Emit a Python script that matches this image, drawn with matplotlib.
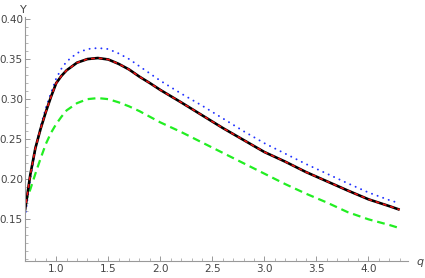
import numpy as np
import matplotlib.pyplot as plt
from matplotlib.ticker import MultipleLocator, FormatStrFormatter

# values
q = [0.70, 0.75, 0.80, 0.85, 0.90, 0.95, 1.00, 1.05, 1.10, 1.20, 1.30, 1.40,
     1.50, 1.60, 1.70, 1.80, 1.90, 2.00, 2.20, 2.40, 2.60, 2.80, 3.00, 3.20,
     3.40, 3.60, 3.80, 4.00, 4.20, 4.30]
y_black = [0.161, 0.205, 0.239, 0.263, 0.284, 0.303, 0.320, 0.329, 0.336, 0.3455,
           0.350, 0.3513, 0.3495, 0.344, 0.337, 0.328, 0.320, 0.3115, 0.296, 0.280,
           0.264, 0.249, 0.234, 0.222, 0.209, 0.1975, 0.186, 0.175, 0.1665, 0.162]
y_red = y_black
y_blue = [0.152, 0.200, 0.238, 0.266, 0.289, 0.308, 0.326, 0.338, 0.347, 0.3575,
          0.3625, 0.3638, 0.3625, 0.357, 0.350, 0.341, 0.332, 0.323, 0.307, 0.292,
          0.276, 0.260, 0.245, 0.232, 0.219, 0.207, 0.195, 0.1835, 0.174, 0.170]
y_green = [0.170, 0.187, 0.207, 0.226, 0.244, 0.258, 0.269, 0.278, 0.286, 0.295,
           0.300, 0.3013, 0.300, 0.296, 0.291, 0.285, 0.278, 0.271, 0.259, 0.246,
           0.233, 0.220, 0.207, 0.194, 0.182, 0.171, 0.159, 0.150, 0.143, 0.139]

fig = plt.figure(figsize=(4.25, 2.78), dpi=100)
ax = fig.add_axes([25 / 425, 17 / 278, 383 / 425, 244 / 278])

ax.plot(q, y_green, color="#22ee22", lw=1.6, dashes=(3.5, 2.2))
ax.plot(q, y_blue, color="#2233ff", lw=1.4, dashes=(0.05, 3.0), dash_capstyle="round")
ax.plot(q, y_black, color="black", lw=1.9, solid_capstyle="butt")
ax.plot(q, y_red, color="#ee1111", lw=1.1, dashes=(2.5, 2.5))

ax.set_xlim(0.70, 4.38)
ax.set_ylim(0.098, 0.4025)

for s in ["top", "right"]:
    ax.spines[s].set_visible(False)
for s in ["left", "bottom"]:
    ax.spines[s].set_color("#999999")
    ax.spines[s].set_linewidth(0.8)

ax.xaxis.set_minor_locator(MultipleLocator(0.1))
ax.yaxis.set_minor_locator(MultipleLocator(0.01))
ax.xaxis.set_major_formatter(FormatStrFormatter("%.1f"))
ax.yaxis.set_major_formatter(FormatStrFormatter("%.2f"))
ax.set_xticks([1.0, 1.5, 2.0, 2.5, 3.0, 3.5, 4.0])
ax.set_yticks([0.15, 0.20, 0.25, 0.30, 0.35, 0.40])

ax.tick_params(which="major", direction="in", length=3.5, width=0.7,
               color="#999999", labelsize=7.5, labelcolor="#444444", pad=1.5)
ax.tick_params(axis="x", which="major", pad=2.5)
ax.tick_params(which="minor", direction="in", length=2, width=0.6, color="#aaaaaa")

fig.text(23 / 425, 1 - 10 / 278, "Y", fontsize=8, color="#444444", ha="center", va="center")
fig.text(420 / 425, 1 - 262 / 278, "q", fontsize=8, color="#444444", style="italic",
         ha="center", va="center")

fig.savefig("out.png", dpi=100)
